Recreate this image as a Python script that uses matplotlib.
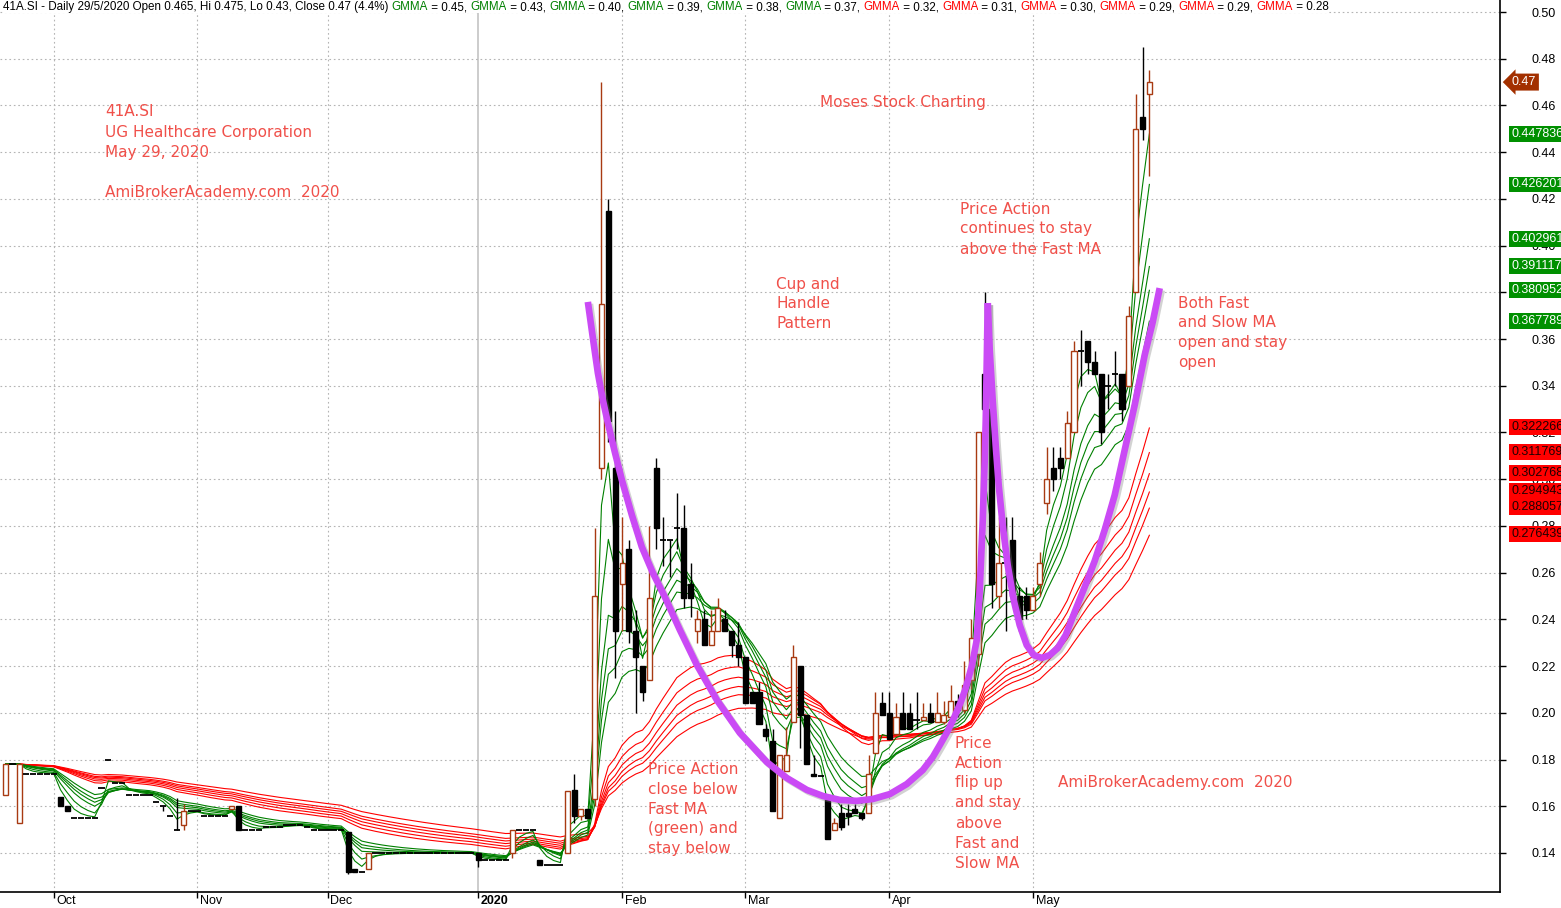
import numpy as np
import matplotlib
matplotlib.use('Agg')
import matplotlib.pyplot as plt
import matplotlib.patheffects as pe
from matplotlib.patches import Rectangle
from matplotlib.transforms import blended_transform_factory

plt.rcParams['font.family'] = ['Liberation Sans', 'DejaVu Sans']

W, H = 1561, 908

# daily bars, 41A.SI, late Sep 2019 .. 29 May 2020
opens = [
    .165, .178, .153, .174, .174, .174, .174, .174, .164, .160,
    .155, .155, .155, .155, .168, .180, .170, .170, .165, .165,
    .165, .165, .162, .160, .156, .150, .152, .158, .158, .156,
    .156, .156, .156, .159, .160, .150, .150, .150, .151, .151,
    .151, .152, .152, .152, .151, .150, .150, .150, .150, .150,
    .149, .133, .132, .133, .140, .140, .140, .140, .140, .140,
    .140, .140, .140, .140, .140, .140, .140, .140, .140, .140,
    .137, .137, .137, .137, .140, .150, .150, .150, .137, .135,
    .135, .135, .140, .167, .156, .159, .163, .305, .415, .305,
    .255, .270, .235, .220, .214, .305, .274, .274, .279, .279,
    .255, .235, .240, .229, .235, .240, .235, .229, .224, .209,
    .209, .193, .188, .155, .175, .196, .220, .199, .174, .173,
    .163, .150, .157, .157, .159, .157, .157, .183, .204, .200,
    .191, .200, .200, .197, .197, .200, .196, .196, .198, .205,
    .201, .214, .225, .345, .330, .250, .264, .274, .250, .250,
    .244, .255, .290, .305, .309, .309, .320, .355, .359, .350,
    .345, .340, .345, .345, .340, .380, .455, .465]
highs = [
    .178, .178, .178, .174, .174, .174, .174, .174, .164, .160,
    .155, .155, .155, .155, .168, .180, .170, .170, .165, .165,
    .165, .165, .162, .160, .156, .1635, .161, .158, .158, .156,
    .156, .156, .156, .160, .160, .150, .150, .150, .151, .151,
    .151, .152, .152, .152, .151, .150, .150, .150, .150, .150,
    .149, .133, .132, .140, .140, .140, .140, .140, .140, .140,
    .140, .140, .140, .140, .140, .140, .140, .140, .140, .140,
    .137, .137, .137, .137, .150, .150, .150, .150, .137, .135,
    .135, .135, .1665, .174, .159, .159, .279, .470, .420, .329,
    .284, .274, .244, .220, .280, .309, .284, .274, .294, .289,
    .264, .244, .244, .244, .249, .244, .235, .239, .224, .209,
    .213, .195, .193, .182, .194, .229, .220, .199, .182, .173,
    .163, .155, .161, .161, .161, .157, .182, .209, .209, .209,
    .204, .209, .204, .209, .204, .204, .209, .205, .212, .208,
    .222, .240, .320, .380, .330, .284, .284, .284, .254, .254,
    .254, .269, .314, .314, .314, .329, .359, .364, .359, .355,
    .345, .345, .355, .345, .374, .465, .485, .475]
lows = [
    .165, .178, .153, .174, .174, .174, .174, .174, .160, .158,
    .155, .155, .155, .155, .168, .180, .170, .170, .165, .165,
    .165, .165, .162, .158, .156, .150, .150, .158, .158, .156,
    .156, .156, .156, .159, .150, .150, .150, .150, .151, .151,
    .151, .152, .152, .152, .151, .150, .150, .150, .150, .150,
    .131, .132, .132, .133, .140, .140, .140, .140, .140, .140,
    .140, .140, .140, .140, .140, .140, .140, .140, .140, .134,
    .137, .137, .137, .137, .138, .150, .150, .150, .135, .135,
    .135, .135, .140, .153, .154, .155, .160, .300, .316, .215,
    .235, .230, .200, .205, .214, .270, .263, .258, .270, .245,
    .241, .230, .229, .229, .235, .235, .224, .220, .204, .204,
    .195, .188, .158, .155, .175, .196, .185, .178, .173, .173,
    .146, .150, .150, .152, .157, .154, .157, .183, .199, .189,
    .191, .193, .193, .193, .197, .196, .196, .195, .197, .198,
    .200, .210, .220, .310, .245, .245, .235, .250, .235, .240,
    .244, .250, .285, .295, .300, .309, .320, .340, .345, .345,
    .315, .330, .340, .325, .340, .380, .445, .430]
closes = [
    .178, .178, .178, .174, .174, .174, .174, .174, .160, .158,
    .155, .155, .155, .155, .168, .180, .170, .170, .165, .165,
    .165, .165, .162, .160, .156, .150, .158, .158, .158, .156,
    .156, .156, .156, .160, .150, .150, .150, .150, .151, .151,
    .151, .152, .152, .152, .151, .150, .150, .150, .150, .150,
    .132, .132, .132, .140, .140, .140, .140, .140, .140, .140,
    .140, .140, .140, .140, .140, .140, .140, .140, .140, .137,
    .137, .137, .137, .137, .150, .150, .150, .150, .135, .135,
    .135, .135, .1665, .156, .159, .155, .250, .375, .325, .235,
    .264, .235, .224, .209, .249, .279, .274, .274, .279, .249,
    .249, .240, .229, .235, .245, .235, .229, .224, .204, .204,
    .195, .190, .158, .182, .182, .224, .199, .178, .173, .173,
    .146, .153, .151, .156, .157, .155, .174, .200, .199, .189,
    .198, .193, .193, .197, .198, .196, .200, .199, .205, .201,
    .212, .232, .320, .330, .255, .264, .264, .250, .240, .244,
    .250, .264, .300, .300, .305, .324, .355, .355, .350, .345,
    .320, .340, .345, .330, .370, .450, .450, .470]

month_labels = ['Oct', 'Nov', 'Dec', '2020', 'Feb', 'Mar', 'Apr', 'May']
month_start = [7, 28, 47, 69, 90, 108, 129, 150]

fast_periods = [3, 5, 8, 10, 12, 15]
slow_periods = [30, 35, 40, 45, 50, 60]
fast_last = ['0.447836', '0.426201', '0.402961', '0.391117', '0.380952', '0.367789']
slow_last = ['0.322266', '0.311769', '0.302768', '0.294943', '0.288057', '0.276439']
header_fast = ['0.45', '0.43', '0.40', '0.39', '0.38', '0.37']
header_slow = ['0.32', '0.31', '0.30', '0.29', '0.29', '0.28']

# hand drawn cup and handle (bar index, price)
cup_x = [85.01, 85.74, 86.47, 87.20, 87.93, 88.95, 89.97, 91.43, 92.89, 94.50,
         96.25, 98.44, 100.92, 103.84, 107.20, 111.14, 114.06, 116.98, 119.32, 121.80,
         124.28, 126.62, 129.10, 131.58, 133.92, 135.38, 136.40, 137.56, 138.59, 139.46,
         140.19, 141.07, 141.80, 142.23, 142.67, 142.96, 143.11, 143.26, 143.40]
cup_y = [.3759, .3605, .3455, .3339, .3241, .3116, .2997, .2847, .2710, .2599,
         .2496, .2355, .2205, .2055, .1914, .1789, .1721, .1670, .1644, .1627,
         .1623, .1631, .1652, .1695, .1755, .1811, .1862, .1922, .1986, .2046,
         .2106, .2200, .2312, .2526, .2825, .3082, .3253, .3510, .3754]
handle_x = [143.40, 143.69, 144.12, 144.56, 145.00, 145.58, 146.31, 147.19, 148.06, 149.09,
            150.11, 151.28, 152.45, 153.62, 154.79, 156.10, 157.56, 159.02, 160.48, 161.94,
            163.40, 164.86, 166.32, 167.49, 168.51]
handle_y = [.3754, .3553, .3339, .3146, .2975, .2804, .2633, .2483, .2376, .2290,
            .2247, .2235, .2247, .2277, .2333, .2432, .2539, .2650, .2783, .2932,
            .3125, .3318, .3532, .3673, .3818]

UP = '#A83A12'
GREEN = '#008000'
RED = '#FF0000'
NOTE = '#F0504A'
MAGENTA = '#CA4AF5'


def ema(values, n, start):
    k = 2.0 / (n + 1)
    out = []
    e = start
    for v in values:
        e = e + k * (v - e)
        out.append(e)
    return out


fig = plt.figure(figsize=(W / 100, H / 100), dpi=100)
ax = fig.add_axes([0, 16 / H, 1500 / W, 892 / H])
ax.set_xlim(-0.83, 218.2)
ax.set_ylim(0.12329, 0.50514)

# grid
ax.set_yticks(np.arange(0.14, 0.501, 0.02))
ax.yaxis.tick_right()
ax.set_yticklabels(['%.2f' % v for v in np.arange(0.14, 0.501, 0.02)])
ax.grid(True, axis='y', color='#B4B4B4', linestyle=(0, (1.5, 2.5)), lw=0.8)
for lab, m in zip(month_labels, month_start):
    if lab == '2020':
        ax.axvline(m, color='#C4C4C4', lw=1.2, zorder=0.5)
    else:
        ax.axvline(m, color='#B4B4B4', lw=0.8, linestyle=(0, (1.5, 2.5)), zorder=0.5)

ax.set_xticks(month_start)
ax.set_xticklabels([])
for lab, m in zip(month_labels, month_start):
    ax.annotate(lab, xy=(m, 0), xycoords=('data', 'axes fraction'),
                xytext=(2, -2.5), textcoords='offset points', ha='left', va='top',
                fontsize=9, fontweight='bold' if lab == '2020' else 'normal')

ax.tick_params(axis='x', direction='out', length=4, width=1)
ax.tick_params(axis='y', direction='out', length=4, width=1, pad=19, labelsize=9)
for s in ['top', 'left']:
    ax.spines[s].set_visible(False)
ax.spines['bottom'].set_linewidth(1.2)
ax.spines['right'].set_linewidth(1.2)

# GMMA
for n in slow_periods:
    ax.plot(range(len(closes)), ema(closes, n, closes[0]), color=RED, lw=0.8, zorder=2)
for n in fast_periods:
    ax.plot(range(len(closes)), ema(closes, n, closes[0]), color=GREEN, lw=0.8, zorder=2)

# candles
bw = 0.74
for i in range(len(closes)):
    o, h, l, c = opens[i], highs[i], lows[i], closes[i]
    if c > o:
        ax.vlines(i, l, h, color=UP, lw=1, zorder=3)
        ax.add_patch(Rectangle((i - bw / 2, o), bw, c - o, facecolor='white',
                               edgecolor=UP, lw=1, zorder=4))
    elif c < o:
        ax.vlines(i, l, h, color='black', lw=1, zorder=3)
        ax.add_patch(Rectangle((i - bw / 2, c), bw, o - c, facecolor='black',
                               edgecolor='black', lw=1, zorder=4))
    else:
        if h > l:
            ax.vlines(i, l, h, color='black', lw=1, zorder=3)
        ax.hlines(c, i - 0.45, i + 0.45, color='black', lw=1.3, zorder=4)

# cup and handle sketch
shadow = [pe.SimpleLineShadow(offset=(1.5, -1.5), shadow_color='#808080', alpha=0.35), pe.Normal()]
for xs, ys in [(cup_x, cup_y), (handle_x, handle_y)]:
    ax.plot(xs, ys, color=MAGENTA, lw=4.8, solid_capstyle='butt', solid_joinstyle='round',
            zorder=6, path_effects=shadow)

# value labels at the right
tr = blended_transform_factory(ax.transAxes, ax.transData)
for s in fast_last:
    ax.text(1 + 11 / 1500, float(s), s, transform=tr, fontsize=9, va='center', ha='left',
            color='white', clip_on=False, zorder=20,
            bbox=dict(boxstyle='square,pad=0.15', fc='#009000', ec='none'))
for s in slow_last:
    ax.text(1 + 11 / 1500, float(s), s, transform=tr, fontsize=9, va='center', ha='left',
            color='#200000', clip_on=False, zorder=20,
            bbox=dict(boxstyle='square,pad=0.15', fc='#FF0000', ec='none'))
ax.text(1 + 12 / 1500, closes[-1], '%.2f' % closes[-1], transform=tr, fontsize=9,
        va='center', ha='left', color='white', clip_on=False, zorder=21,
        bbox=dict(boxstyle='larrow,pad=0.2', fc='#A33000', ec='none'))

# header line
renderer = fig.canvas.get_renderer()
pieces = [('41A.SI - Daily 29/5/2020 Open 0.465, Hi 0.475, Lo 0.43, Close 0.47 (4.4%) ', 'black')]
allv = header_fast + header_slow
for j, v in enumerate(allv):
    pieces.append(('GMMA', GREEN if j < 6 else RED))
    pieces.append((' = ' + v + (', ' if j < len(allv) - 1 else ''), 'black'))
xpos = 3
for s, col in pieces:
    t = fig.text(xpos / W, 1 - 7 / H, s, color=col, fontsize=8.37, va='center', ha='left',
                 bbox=dict(fc='white', ec='none', pad=0.3))
    bb = t.get_window_extent(renderer=renderer)
    xpos = bb.x1


# notes
def note(px, py, lines):
    for k, s in enumerate(lines):
        fig.text(px / W, 1 - (py + 20 * k) / H, s, color=NOTE, fontsize=11,
                 family='DejaVu Sans', va='center', ha='left')


note(105, 112, ['41A.SI', 'UG Healthcare Corporation', 'May 29, 2020'])
note(105, 192, ['AmiBrokerAcademy.com  2020'])
note(820, 102, ['Moses Stock Charting'])
note(960, 209, ['Price Action', 'continues to stay', 'above the Fast MA'])
note(776, 284, ['Cup and', 'Handle', 'Pattern'])
note(1178, 303, ['Both Fast', 'and Slow MA', 'open and stay', 'open'])
note(648, 769, ['Price Action', 'close below', 'Fast MA', '(green) and', 'stay below'])
note(955, 743, ['Price', 'Action', 'flip up', 'and stay', 'above', 'Fast and', 'Slow MA'])
note(1058, 783, ['AmiBrokerAcademy.com  2020'])

fig.savefig('out.png', dpi=100)
